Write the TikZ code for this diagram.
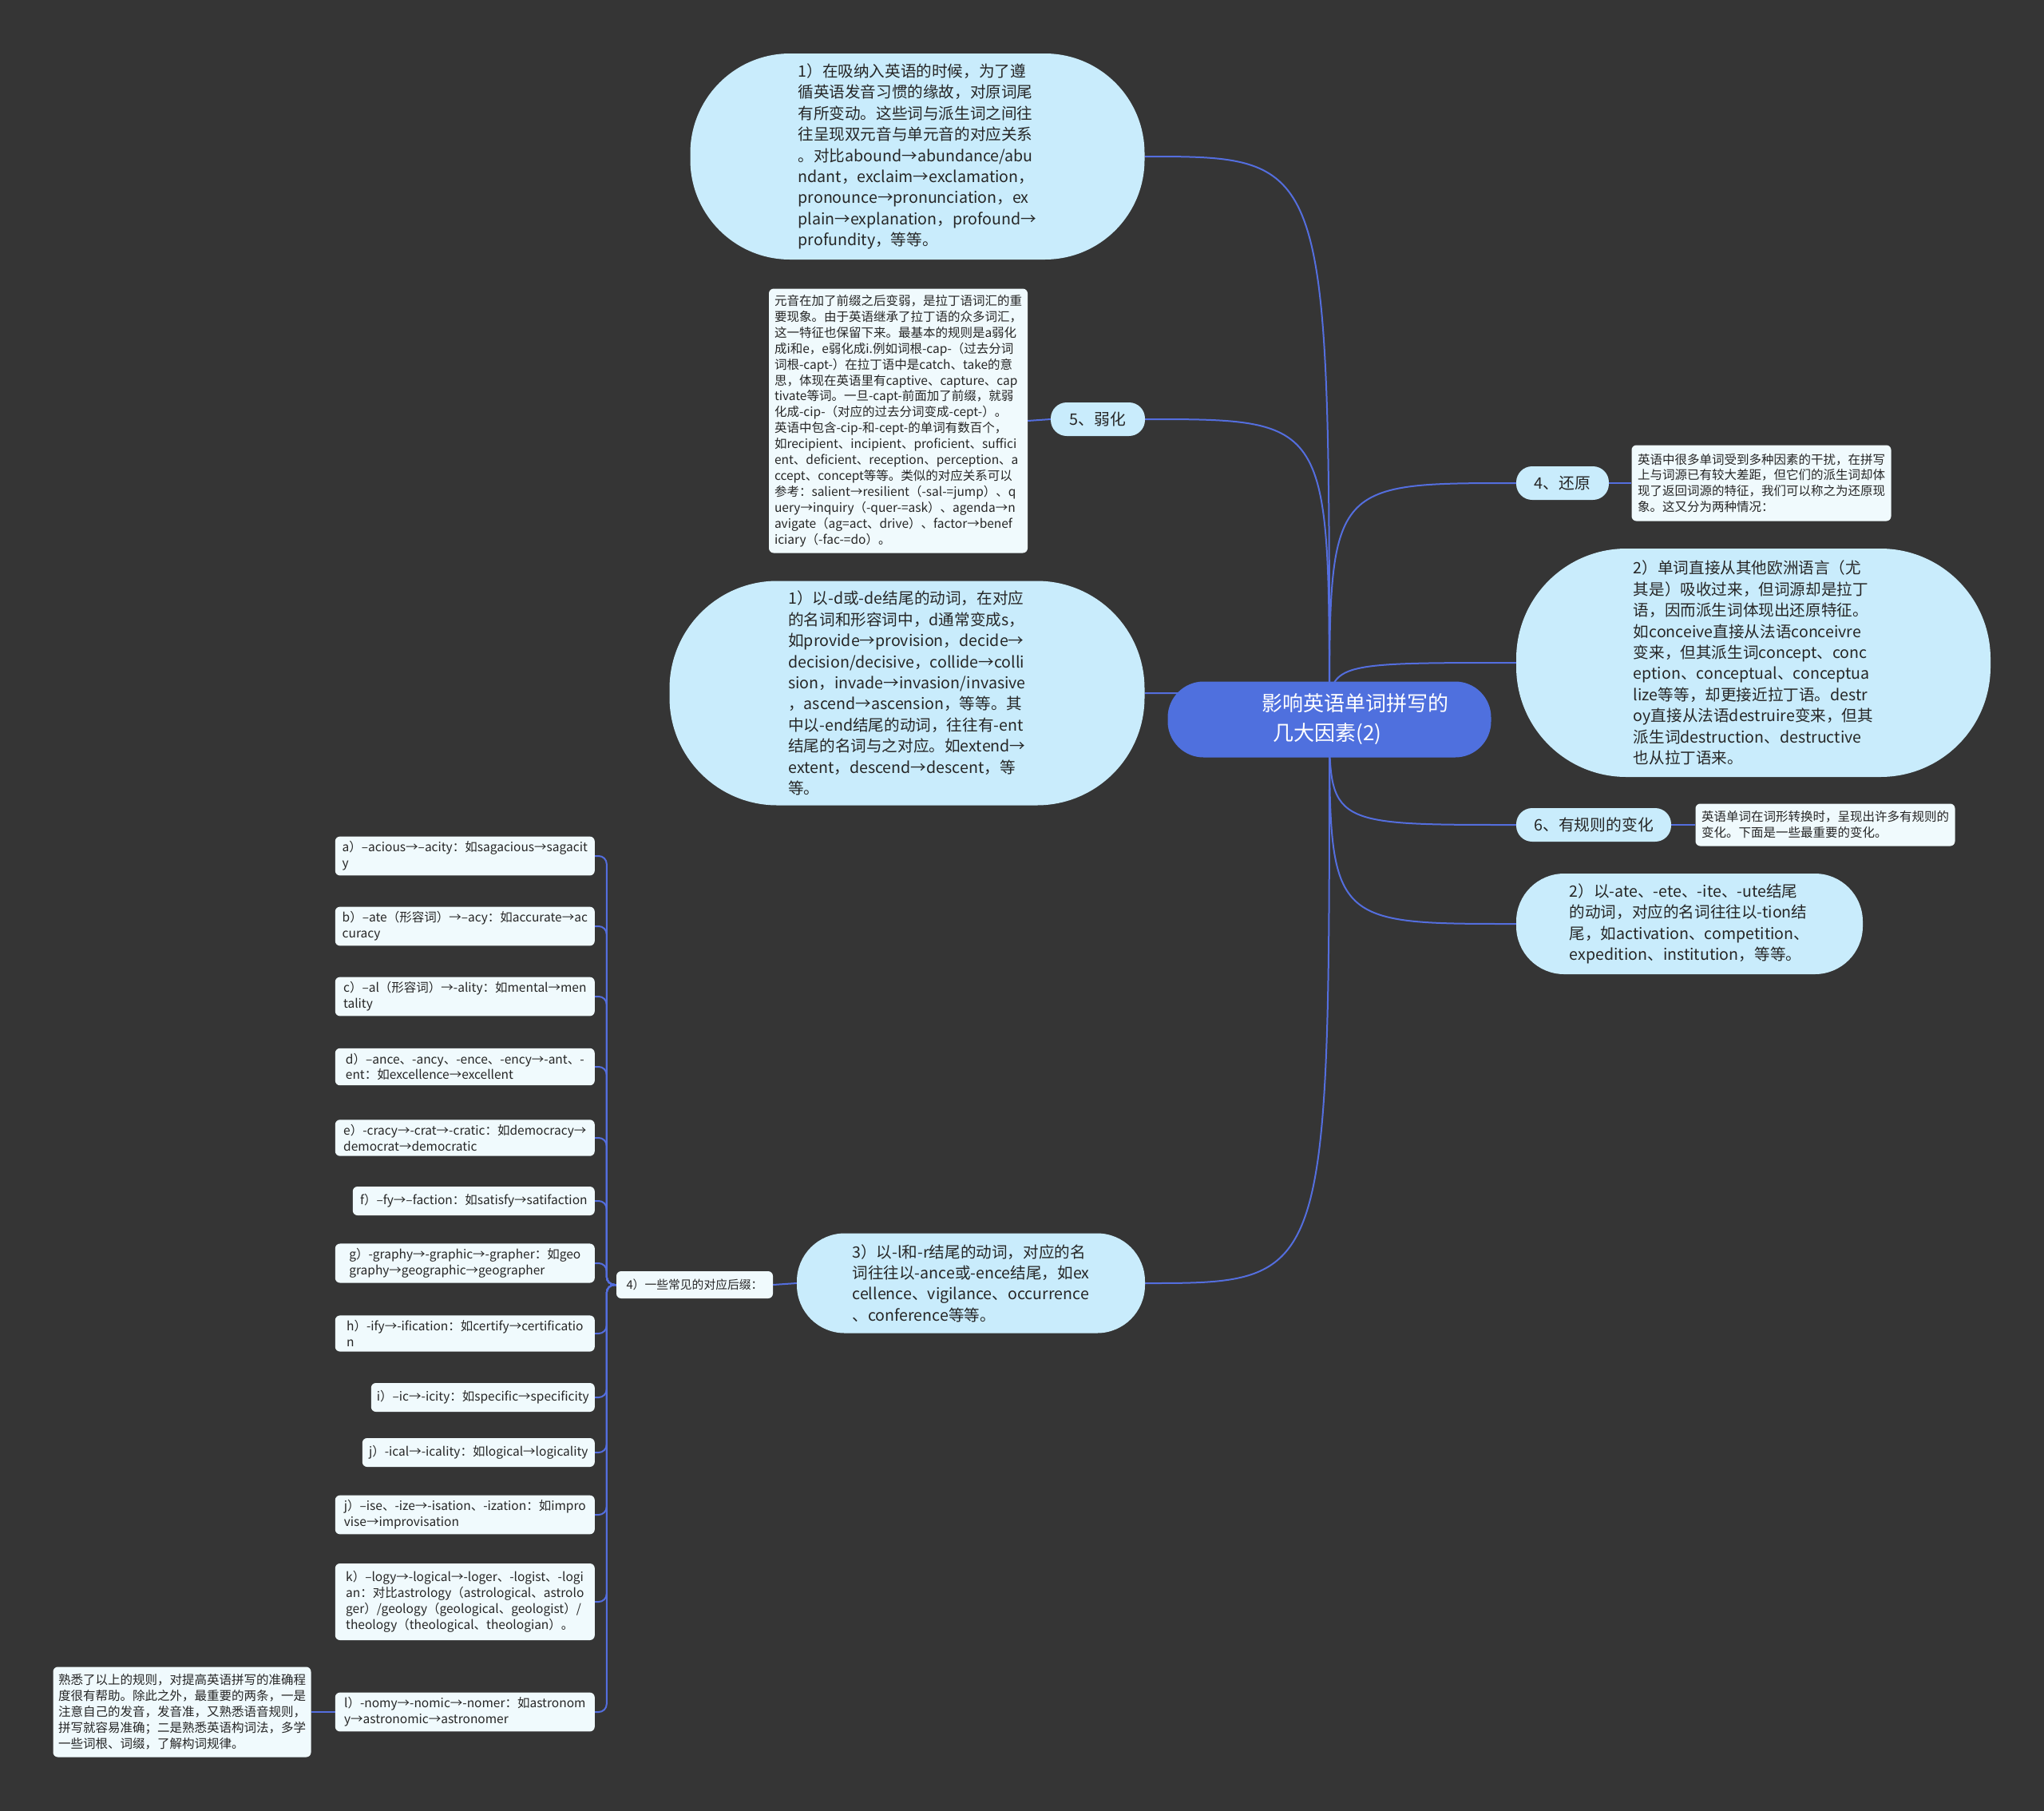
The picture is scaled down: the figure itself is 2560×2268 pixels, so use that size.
\documentclass[tikz,border=0pt]{standalone}
\usepackage{fontspec}
\setmainfont{Noto Sans CJK SC}
\usetikzlibrary{positioning}

\definecolor{bgdark}{RGB}{53,53,53}
\definecolor{rootblue}{RGB}{79,112,222}
\definecolor{linkblue}{RGB}{84,110,222}
\definecolor{topicblue}{RGB}{201,236,252}
\definecolor{notewhite}{RGB}{240,250,253}
\definecolor{inkgray}{RGB}{38,38,38}

\pgfdeclarelayer{back}
\pgfdeclarelayer{edges}
\pgfsetlayers{back,edges,main}

\begin{document}
\begin{tikzpicture}[x=1pt,y=-1pt,
  root node/.style={fill=rootblue,text=white,rounded corners=45pt,minimum width=405pt,minimum height=95pt,
    align=left,font=\fontsize{26}{37}\selectfont},
  topic node/.style={fill=topicblue,text=inkgray,align=left,font=\fontsize{19.6}{26.4}\selectfont},
  pill node/.style={fill=topicblue,text=inkgray,rounded corners=20pt,minimum height=42pt,
    font=\fontsize{19.8}{24}\selectfont},
  note node/.style={fill=notewhite,text=inkgray,rounded corners=6pt,align=left,inner sep=6pt,
    font=\fontsize{15.5}{19.9}\selectfont},
  item node/.style={note node,anchor=east,minimum height=36pt},
  link/.style={draw=linkblue,line width=2pt}]

  \useasboundingbox (0,0) rectangle (2560,2268);
  \begin{pgfonlayer}{back}
    \fill[bgdark] (0,0) rectangle (2560,2268);
  \end{pgfonlayer}

  \node[root node] (root) at (1665,901) {\hspace*{65pt}影响英语单词拼写的\\\hspace*{79pt}几大因素(2)};

  \node[topic node,rounded corners=125pt,minimum width=569pt,minimum height=258pt] (vowel) at (1149,196)
    {1）在吸纳入英语的时候，为了遵\\循英语发音习惯的缘故，对原词尾\\有所变动。这些词与派生词之间往\\往呈现双元音与单元音的对应关系\\。对比abound→abundance/abu\\ndant，exclaim→exclamation，\\pronounce→pronunciation，ex\\plain→explanation，profound→\\profundity，等等。};
  \node[pill node,minimum width=118pt] (weak) at (1375,525) {5、弱化};
  \node[note node,minimum width=324pt,minimum height=331pt] (weaknote) at (1125,527)
    {元音在加了前缀之后变弱，是拉丁语词汇的重\\要现象。由于英语继承了拉丁语的众多词汇，\\这一特征也保留下来。最基本的规则是a弱化\\成i和e，e弱化成i.例如词根-cap-（过去分词\\词根-capt-）在拉丁语中是catch、take的意\\思，体现在英语里有captive、capture、cap\\tivate等词。一旦-capt-前面加了前缀，就弱\\化成-cip-（对应的过去分词变成-cept-）。\\英语中包含-cip-和-cept-的单词有数百个，\\如recipient、incipient、proficient、suffici\\ent、deficient、reception、perception、a\\ccept、concept等等。类似的对应关系可以\\参考：salient→resilient（-sal-=jump）、q\\uery→inquiry（-quer-=ask）、agenda→n\\avigate（ag=act、drive）、factor→benef\\iciary（-fac-=do）。};
  \node[topic node,rounded corners=135pt,minimum width=595pt,minimum height=281pt] (dverb) at (1136,868)
    {1）以-d或-de结尾的动词，在对应\\的名词和形容词中，d通常变成s，\\如provide→provision，decide→\\decision/decisive，collide→colli\\sion，invade→invasion/invasive\\，ascend→ascension，等等。其\\中以-end结尾的动词，往往有-ent\\结尾的名词与之对应。如extend→\\extent，descend→descent，等\\等。};
  \node[topic node,rounded corners=60pt,minimum width=436pt,minimum height=125pt] (lrverb) at (1216,1607)
    {3）以-l和-r结尾的动词，对应的名\\词往往以-ance或-ence结尾，如ex\\cellence、vigilance、occurrence\\、conference等等。};
  \node[note node,minimum width=196pt,minimum height=34pt,font=\fontsize{14.8}{19}\selectfont] (sfx) at (870,1609)
    {4）一些常见的对应后缀：};

  \node[item node,minimum width=325pt] (ia) at (745,1072) {a）–acious→–acity：如sagacious→sagacit\\y};
  \node[item node,minimum width=325pt] (ib) at (745,1160) {b）–ate（形容词）→–acy：如accurate→ac\\curacy};
  \node[item node,minimum width=325pt] (ic) at (745,1248) {c）–al（形容词）→-ality：如mental→men\\tality};
  \node[item node,minimum width=325pt] (id) at (745,1336) {d）–ance、-ancy、-ence、-ency→-ant、-\\ent：如excellence→excellent};
  \node[item node,minimum width=325pt] (ie) at (745,1425) {e）-cracy→-crat→-cratic：如democracy→\\democrat→democratic};
  \node[item node,minimum width=303pt] (if) at (745,1504) {f）–fy→–faction：如satisfy→satifaction};
  \node[item node,minimum width=325pt] (ig) at (745,1582) {g）-graphy→-graphic→-grapher：如geo\\graphy→geographic→geographer};
  \node[item node,minimum width=325pt] (ih) at (745,1670) {h）-ify→-ification：如certify→certificatio\\n};
  \node[item node,minimum width=280pt] (ii) at (745,1750) {i）–ic→-icity：如specific→specificity};
  \node[item node,minimum width=291pt] (ij) at (745,1819) {j）-ical→-icality：如logical→logicality};
  \node[item node,minimum width=325pt] (ijj) at (745,1897) {j）–ise、-ize→-isation、-ization：如impro\\vise→improvisation};
  \node[item node,minimum width=325pt,minimum height=96pt] (ik) at (745,2006) {k）–logy→-logical→-loger、-logist、-logi\\an：对比astrology（astrological、astrolo\\ger）/geology（geological、geologist）/\\theology（theological、theologian）。};
  \node[item node,minimum width=325pt] (il) at (745,2144) {l）-nomy→-nomic→-nomer：如astronom\\y→astronomic→astronomer};
  \node[note node,minimum width=323pt,minimum height=113pt] (tip) at (228,2144)
    {熟悉了以上的规则，对提高英语拼写的准确程\\度很有帮助。除此之外，最重要的两条，一是\\注意自己的发音，发音准，又熟悉语音规则，\\拼写就容易准确；二是熟悉英语构词法，多学\\一些词根、词缀，了解构词规律。};

  \node[pill node,minimum width=116pt] (restore) at (1957,605) {4、还原};
  \node[note node,minimum width=325pt,minimum height=95pt] (restorenote) at (2206,605)
    {英语中很多单词受到多种因素的干扰，在拼写\\上与词源已有较大差距，但它们的派生词却体\\现了返回词源的特征，我们可以称之为还原现\\象。这又分为两种情况：};
  \node[topic node,rounded corners=138pt,minimum width=594pt,minimum height=286pt] (latin) at (2196,830)
    {2）单词直接从其他欧洲语言（尤\\其是）吸收过来，但词源却是拉丁\\语，因而派生词体现出还原特征。\\如conceive直接从法语conceivre\\变来，但其派生词concept、conc\\eption、conceptual、conceptua\\lize等等，却更接近拉丁语。destr\\oy直接从法语destruire变来，但其\\派生词destruction、destructive\\也从拉丁语来。};
  \node[pill node,minimum width=194pt] (rule) at (1996,1033) {6、有规则的变化};
  \node[note node,minimum width=325pt,minimum height=53pt] (rulenote) at (2286,1033)
    {英语单词在词形转换时，呈现出许多有规则的\\变化。下面是一些最重要的变化。};
  \node[topic node,rounded corners=60pt,minimum width=434pt,minimum height=126pt] (ateverb) at (2116,1157)
    {2）以-ate、-ete、-ite、-ute结尾\\的动词，对应的名词往往以-tion结\\尾，如activation、competition、\\expedition、institution，等等。};

  \begin{pgfonlayer}{edges}
    \draw[link] (root.center) .. controls (root.center |- vowel.east) .. (vowel.east);
    \draw[link] (root.center) .. controls (root.center |- weak.east) .. (weak.east);
    \draw[link] (root.center) .. controls (root.center |- dverb.east) .. (dverb.east);
    \draw[link] (root.center) .. controls (root.center |- lrverb.east) .. (lrverb.east);
    \draw[link] (root.center) .. controls (root.center |- restore.west) .. (restore.west);
    \draw[link] (root.center) .. controls (root.center |- latin.west) .. (latin.west);
    \draw[link] (root.center) .. controls (root.center |- rule.west) .. (rule.west);
    \draw[link] (root.center) .. controls (root.center |- ateverb.west) .. (ateverb.west);
    \draw[link] (weak.west) -- (weaknote.east);
    \draw[link] (restore.east) -- (restorenote.west);
    \draw[link] (rule.east) -- (rulenote.west);
    \draw[link] (lrverb.west) -- (sfx.east);
    \draw[link] (il.west) -- (tip.east);
    \draw[link,rounded corners=10pt] (sfx.west) -- ++(-12,0) |- (ia.east);
    \draw[link,rounded corners=10pt] (sfx.west) -- ++(-12,0) |- (ib.east);
    \draw[link,rounded corners=10pt] (sfx.west) -- ++(-12,0) |- (ic.east);
    \draw[link,rounded corners=10pt] (sfx.west) -- ++(-12,0) |- (id.east);
    \draw[link,rounded corners=10pt] (sfx.west) -- ++(-12,0) |- (ie.east);
    \draw[link,rounded corners=10pt] (sfx.west) -- ++(-12,0) |- (if.east);
    \draw[link,rounded corners=10pt] (sfx.west) -- ++(-12,0) |- (ig.east);
    \draw[link,rounded corners=10pt] (sfx.west) -- ++(-12,0) |- (ih.east);
    \draw[link,rounded corners=10pt] (sfx.west) -- ++(-12,0) |- (ii.east);
    \draw[link,rounded corners=10pt] (sfx.west) -- ++(-12,0) |- (ij.east);
    \draw[link,rounded corners=10pt] (sfx.west) -- ++(-12,0) |- (ijj.east);
    \draw[link,rounded corners=10pt] (sfx.west) -- ++(-12,0) |- (ik.east);
    \draw[link,rounded corners=10pt] (sfx.west) -- ++(-12,0) |- (il.east);
  \end{pgfonlayer}
\end{tikzpicture}
\end{document}
